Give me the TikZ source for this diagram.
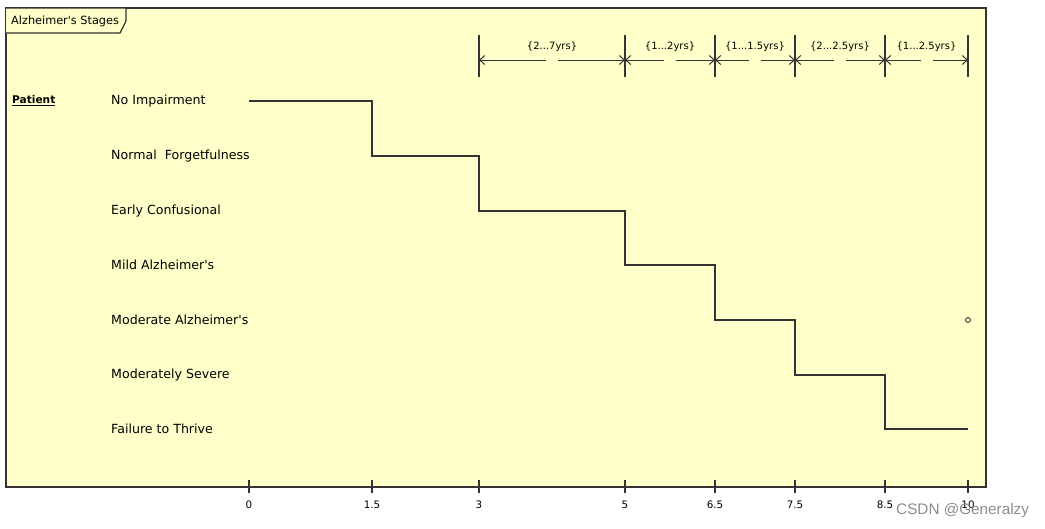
\documentclass[tikz,border=0pt]{standalone}
\usepackage{fontspec}
\setmainfont{DejaVu Sans}[Ligatures=ResetAll]
\newfontfamily\wmfont{Liberation Sans}
\usetikzlibrary{arrows.meta}
\definecolor{bgyellow}{HTML}{FFFFCA}
\definecolor{ink}{HTML}{333333}
\newcommand{\ap}{\textquotesingle}
\tikzset{
  frameline/.style={draw=ink, line width=1.2pt},
  stepline/.style={draw=ink, line width=1.1pt},
  tickline/.style={draw=ink, line width=1.1pt},
  stagelabel/.style={anchor=west, inner sep=0pt, font=\fontsize{12.6}{15}\selectfont, text=black},
  ticklabel/.style={inner sep=0pt, font=\fontsize{10.3}{12}\selectfont, text=black},
  durlabel/.style={inner sep=0pt, font=\fontsize{10}{12}\selectfont, text=black},
  durarrow/.style={draw=ink, line width=1pt, -{Straight Barb[length=5pt,width=9pt]}},
}
\begin{document}
\begin{tikzpicture}[x=1pt,y=-1pt]
\useasboundingbox (0,0) rectangle (1045,528);
% frame
\path[fill=bgyellow, frameline] (6,8) rectangle (986,487);
\path[fill=bgyellow, frameline] (6,8) -- (126,8) -- (126,21) -- (120,33) -- (6,33);
\node[anchor=west, inner sep=0pt, font=\fontsize{11.3}{13}\selectfont] (title) at (11,21) {Alzheimer\ap s Stages};
% lifeline label
\node[anchor=west, inner sep=0pt, font=\bfseries\fontsize{10.6}{13}\selectfont] (patient) at (12,101) {\underline{Patient}};
% stage labels
\node[stagelabel] (s1) at (111,101) {No Impairment};
\node[stagelabel] (s2) at (111,156) {Normal\ \ Forgetfulness};
\node[stagelabel] (s3) at (111,211) {Early Confusional};
\node[stagelabel] (s4) at (111,265) {Mild Alzheimer\ap s};
\node[stagelabel] (s5) at (111,320) {Moderate Alzheimer\ap s};
\node[stagelabel] (s6) at (111,375) {Moderately Severe};
\node[stagelabel] (s7) at (111,429) {Failure to Thrive};
% time axis
\foreach \nm/\xx/\lab in {a/249/0, b/372/1.5, c/479/3, d/625/5, e/715/6.5, f/795/7.5, g/885/8.5, h/968/10}{
  \coordinate (t\nm) at (\xx,487);
  \draw[tickline] (\xx,480) -- (\xx,493);
  \node[ticklabel] (l\nm) at (\xx,505) {\lab};
}
% step line
\draw[stepline] (249,101) -- (372,101) -- (372,156) -- (479,156) -- (479,211)
  -- (625,211) -- (625,265) -- (715,265) -- (715,320) -- (795,320) -- (795,375)
  -- (885,375) -- (885,429) -- (968,429);
% end marker
\draw[ink, line width=0.9pt] (968,320) circle (2.4pt);
% duration constraints
\foreach \xx in {479,625,715,795,885,968}{
  \draw[tickline] (\xx,35) -- (\xx,77);
}
\foreach \xa/\xb/\lab in {479/625/{2...7yrs}, 625/715/{1...2yrs}, 715/795/{1...1.5yrs}, 795/885/{2...2.5yrs}, 885/968/{1...2.5yrs}}{
  \pgfmathsetmacro{\xm}{(\xa+\xb)/2}
  \coordinate (L) at (\xa,60);
  \coordinate (R) at (\xb,60);
  \coordinate (ML) at (\xm-6,60);
  \coordinate (MR) at (\xm+6,60);
  \draw[durarrow] (ML) -- (L);
  \draw[durarrow] (MR) -- (R);
  \node[durlabel] at (\xm,47) {\{\lab\}};
}
\foreach \xx in {625,715,795,885}{
  \fill[ink] (\xx,60) circle (1.9pt);
}
% watermark
\node[anchor=west, inner sep=0pt, font=\wmfont\fontsize{15.3}{17}\selectfont, text=black!45] (wm) at (896,511) {CSDN @Generalzy};
\end{tikzpicture}
\end{document}
